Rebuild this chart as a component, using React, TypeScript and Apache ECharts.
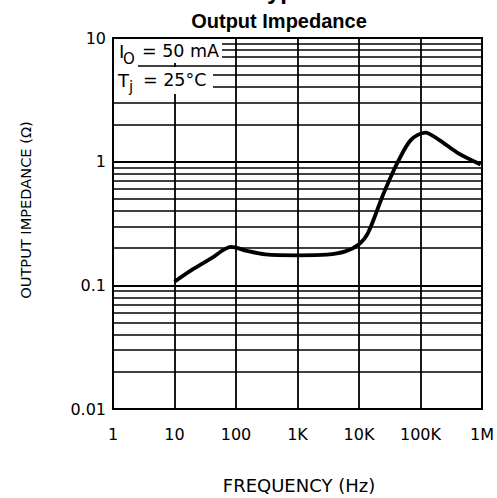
import React, { useEffect, useRef } from "react";
import * as echarts from "echarts";

const freqHz = [10, 20, 40, 83, 150, 300, 1000, 3000, 6000, 10000, 14000, 25000, 43000, 70000, 120000, 200000, 400000, 950000];
const impedanceOhm = [0.107, 0.135, 0.166, 0.205, 0.19, 0.178, 0.175, 0.177, 0.188, 0.215, 0.265, 0.55, 1.0, 1.5, 1.72, 1.5, 1.18, 0.95];

const xTickValues = [1, 10, 100, 1000, 10000, 100000, 1000000];
const xTickLabels = ["1", "10", "100", "1K", "10K", "100K", "1M"];
const yTickValues = [0.01, 0.1, 1, 10];
const yTickLabels = ["0.01", "0.1", "1", "10"];
const yDecades = [0.01, 0.1, 1];
const minorMultipliers = [2, 3, 4, 5, 6, 7, 8, 9];

const titleText = "Output Impedance";
const cutTitleText = "Typical Performance Characteristics";
const xAxisTitle = "FREQUENCY (Hz)";
const yAxisTitle = "OUTPUT IMPEDANCE (Ω)";

const FONT = "DejaVu Sans";

export default function App() {
  const ref = useRef<HTMLDivElement>(null);
  useEffect(() => {
    if (!ref.current) return;
    const chart = echarts.init(ref.current, null, { renderer: "svg" });
    const minorValues: number[] = [];
    yDecades.forEach((d) => minorMultipliers.forEach((m) => minorValues.push(+(d * m).toPrecision(3))));
    const data = freqHz.map((f, i) => [f, impedanceOhm[i]]);

    const xLabel = (v: number) => {
      const i = xTickValues.findIndex((t) => Math.abs(Math.log10(t) - Math.log10(v)) < 1e-6);
      return i >= 0 ? xTickLabels[i] : "";
    };
    const yLabel = (v: number) => {
      const i = yTickValues.findIndex((t) => Math.abs(Math.log10(t) - Math.log10(v)) < 1e-6);
      return i >= 0 ? yTickLabels[i] : "";
    };

    chart.setOption({
      animation: false,
      backgroundColor: "#fff",
      grid: {
        left: 113,
        right: 12,
        top: 38,
        bottom: 89,
        show: true,
        borderColor: "#000",
        borderWidth: 2,
        backgroundColor: "transparent",
      },
      xAxis: {
        type: "log",
        logBase: 10,
        min: 1,
        max: 1000000,
        axisLine: { show: true, lineStyle: { color: "#000", width: 2 } },
        axisTick: { show: false },
        splitLine: { show: true, lineStyle: { color: "#000", width: 1.8 } },
        axisLabel: {
          color: "#000",
          fontFamily: FONT,
          fontSize: 16,
          margin: 17,
          formatter: xLabel,
        },
      },
      yAxis: {
        type: "log",
        logBase: 10,
        min: 0.01,
        max: 10,
        axisLine: { show: true, lineStyle: { color: "#000", width: 2 } },
        axisTick: { show: false },
        splitLine: { show: true, lineStyle: { color: "#000", width: 1.8 } },
        axisLabel: {
          color: "#000",
          fontFamily: FONT,
          fontSize: 16,
          margin: 7,
          formatter: yLabel,
        },
      },
      series: [
        {
          type: "line",
          data,
          smooth: 0.3,
          symbol: "none",
          lineStyle: { color: "#000", width: 3.8 },
          z: 5,
          markLine: {
            silent: true,
            symbol: ["none", "none"],
            label: { show: false },
            lineStyle: { color: "#000", width: 1.6, type: "solid" },
            data: minorValues.map((v) => ({ yAxis: v })),
            z: 3,
          },
        },
      ],
      graphic: [
        {
          type: "text",
          left: 254,
          top: -22,
          style: { text: cutTitleText, font: "bold 24px 'Liberation Sans', Arial", fill: "#000" },
          z: 20,
        },
        {
          type: "text",
          x: 279,
          y: 21,
          style: {
            text: titleText,
            font: "bold 20px 'Liberation Sans', Arial",
            fill: "#000",
            align: "center",
            verticalAlign: "middle",
          },
          z: 20,
        },
        { type: "rect", shape: { x: 114, y: 39, width: 108, height: 24 }, style: { fill: "#fff" }, z: 10 },
        { type: "rect", shape: { x: 114, y: 62, width: 24, height: 6 }, style: { fill: "#fff" }, z: 10 },
        { type: "rect", shape: { x: 114, y: 67, width: 99, height: 27 }, style: { fill: "#fff" }, z: 10 },
        {
          type: "text",
          x: 119,
          y: 51,
          style: { text: "I", font: `18px '${FONT}'`, fill: "#000", verticalAlign: "middle" },
          z: 20,
        },
        {
          type: "text",
          x: 123,
          y: 59,
          style: { text: "O", font: `15px '${FONT}'`, fill: "#000", verticalAlign: "middle" },
          z: 20,
        },
        {
          type: "text",
          x: 142,
          y: 51,
          style: { text: "= 50 mA", font: `17.5px '${FONT}'`, fill: "#000", verticalAlign: "middle" },
          z: 20,
        },
        {
          type: "text",
          x: 118,
          y: 80,
          style: { text: "T", font: `18px '${FONT}'`, fill: "#000", verticalAlign: "middle" },
          z: 20,
        },
        {
          type: "text",
          x: 129,
          y: 87,
          style: { text: "j", font: `15px '${FONT}'`, fill: "#000", verticalAlign: "middle" },
          z: 20,
        },
        {
          type: "text",
          x: 143,
          y: 80,
          style: { text: "= 25°C", font: `17.5px '${FONT}'`, fill: "#000", verticalAlign: "middle" },
          z: 20,
        },
        {
          type: "text",
          x: 299,
          y: 485,
          style: {
            text: xAxisTitle,
            font: `18px '${FONT}'`,
            fill: "#000",
            align: "center",
            verticalAlign: "middle",
          },
          z: 20,
        },
        {
          type: "text",
          x: 25,
          y: 210,
          rotation: Math.PI / 2,
          style: {
            text: yAxisTitle,
            font: `14.6px '${FONT}'`,
            fill: "#000",
            align: "center",
            verticalAlign: "middle",
          },
          z: 20,
        },
      ],
    });
    return () => chart.dispose();
  }, []);
  return <div ref={ref} style={{ position: "fixed", left: 0, top: 0, width: 497, height: 498 }} />;
}
